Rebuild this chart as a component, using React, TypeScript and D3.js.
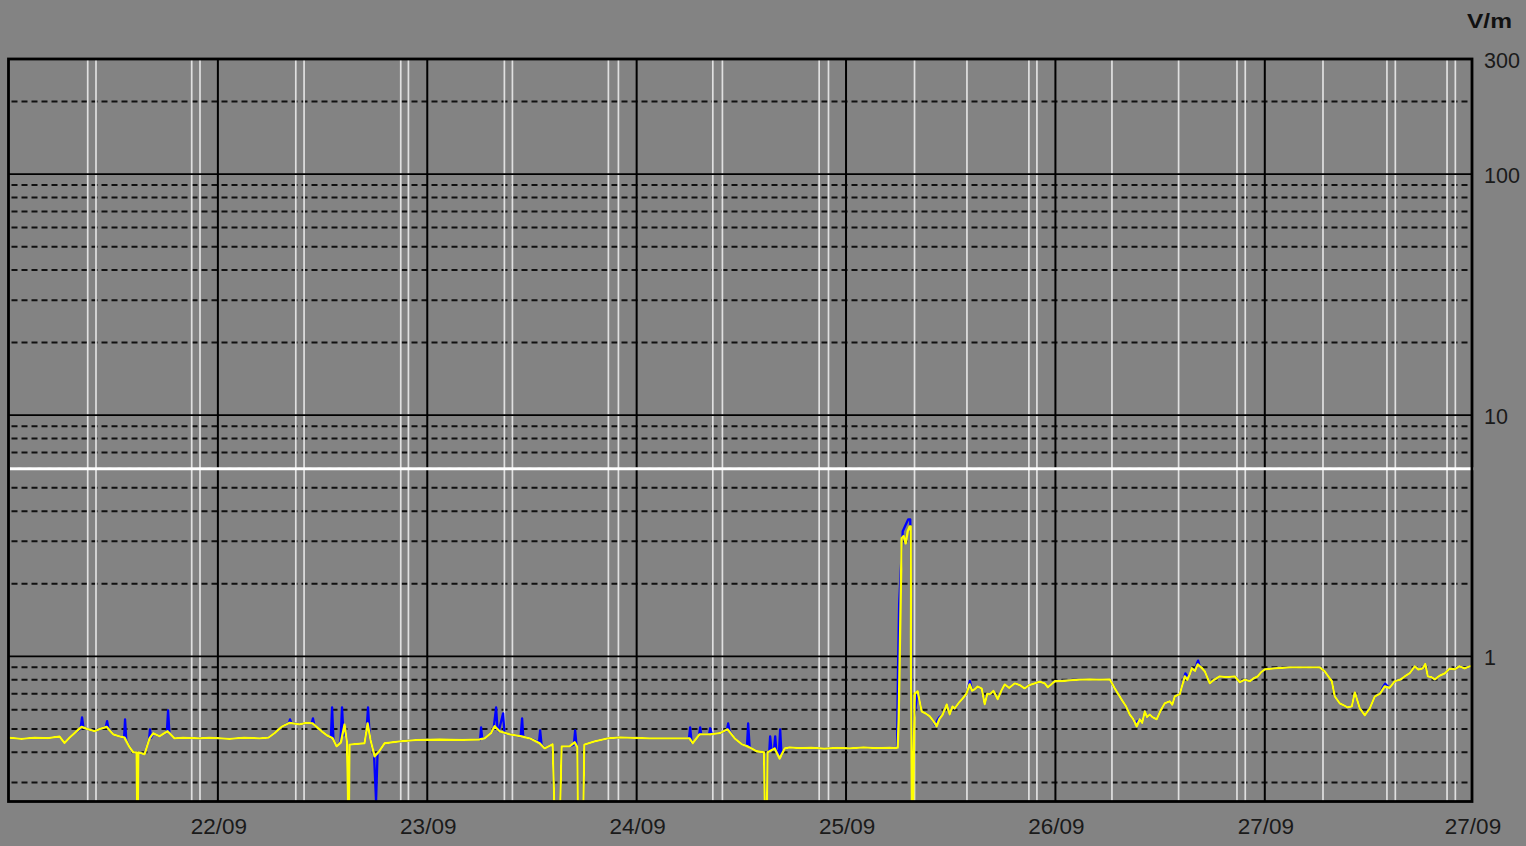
import React from "react";
import * as d3 from "d3";

// ---------- data ----------
const START = Date.UTC(2021, 8, 21, 0, 0); // 21/09 00:00
const END_HOURS = 167.75; // last sample, 27/09 ~23:45

// y-axis labels and threshold
const yLabels = [300, 100, 10, 1];
const majorLines = [1, 10, 100];
const thresholdVm = 6;

// white vertical markers (hours since start)
const markerHours = [
  9.08, 10.03, 21.0, 21.95, 32.93, 33.88, 44.96, 45.84, 56.84, 57.76, 68.76, 69.91,
  80.73, 81.83, 92.92, 93.99, 103.85, 109.86, 116.96, 117.88, 126.48, 134.12,
  140.81, 141.76, 150.67, 158.0, 158.96, 164.89, 165.84,
];

// average field (yellow) : [hours since start, V/m]
const avgSeries: [number, number][] = [
  [0, 0.46], [1.5, 0.455], [3, 0.46], [4.5, 0.458], [5.85, 0.465], [6.42, 0.437], [7.0, 0.46],
  [7.57, 0.48], [8.37, 0.51], [9.0, 0.5], [9.86, 0.489], [10.5, 0.5], [11.24, 0.51], [12.0, 0.475],
  [12.73, 0.466], [13.3, 0.46], [13.87, 0.42], [14.3, 0.4], [14.67, 0.4], [14.72, 0.2], [14.85, 0.2],
  [14.9, 0.4], [15.59, 0.392], [16.17, 0.457], [16.6, 0.48], [17.31, 0.466], [18.23, 0.489],
  [19.03, 0.457], [20, 0.46], [21.9, 0.457], [23, 0.46], [25.34, 0.455], [27, 0.46], [28.78, 0.457],
  [29.8, 0.46], [30.5, 0.48], [31.3, 0.51], [32.22, 0.53], [33.36, 0.522], [34.1, 0.53],
  [34.85, 0.527], [35.88, 0.489], [36.5, 0.47], [37.15, 0.457], [37.61, 0.423], [38.1, 0.44],
  [38.52, 0.522], [38.8, 0.44], [38.9, 0.2], [39.05, 0.2], [39.1, 0.43], [39.67, 0.432],
  [40.81, 0.436], [41.16, 0.527], [41.5, 0.45], [41.96, 0.385], [42.4, 0.4], [43.11, 0.436],
  [44.83, 0.444], [47, 0.45], [49.41, 0.452], [52, 0.45], [54.0, 0.452], [54.57, 0.457],
  [55.3, 0.48], [55.72, 0.513], [56.29, 0.489], [57.44, 0.475], [58.81, 0.466], [59.73, 0.457],
  [60.88, 0.436], [61.45, 0.415], [62.37, 0.432], [62.55, 0.2], [63.25, 0.2], [63.4, 0.423],
  [64.32, 0.423], [64.89, 0.44], [65.2, 0.42], [65.25, 0.2], [65.9, 0.2], [66.0, 0.43],
  [67.18, 0.444], [68.67, 0.457], [70.05, 0.461], [73.49, 0.457], [76.12, 0.457], [78.07, 0.457],
  [78.42, 0.436], [79.22, 0.475], [80.37, 0.475], [81.52, 0.48], [82.43, 0.498], [83.23, 0.457],
  [84.04, 0.432], [84.72, 0.423], [85.18, 0.415], [85.76, 0.404], [86.6, 0.4], [86.67, 0.2],
  [86.95, 0.2], [87.01, 0.4], [87.24, 0.404], [87.82, 0.415], [88.39, 0.377], [88.97, 0.415],
  [89.54, 0.419], [90.69, 0.416], [92, 0.418], [93.5, 0.414], [95, 0.417], [96.42, 0.415],
  [98, 0.419], [99.5, 0.416], [101.0, 0.418], [101.58, 0.416], [101.92, 0.418], [102.03, 0.54],
  [102.38, 3.09], [102.6, 3.15], [102.84, 2.94], [103.07, 3.3], [103.3, 3.46], [103.41, 3.46],
  [103.45, 0.93], [103.55, 0.2], [103.7, 0.2], [103.87, 0.7], [104.21, 0.716], [104.67, 0.591],
  [105.1, 0.58], [105.59, 0.564], [106.0, 0.54], [106.39, 0.513], [106.7, 0.55], [107.08, 0.574],
  [107.54, 0.632], [107.88, 0.574], [108.2, 0.62], [108.45, 0.608], [108.9, 0.64], [109.37, 0.669],
  [109.8, 0.70], [110.17, 0.765], [110.45, 0.72], [110.75, 0.73], [111.1, 0.75], [111.55, 0.736],
  [111.89, 0.632], [112.2, 0.70], [112.47, 0.696], [112.9, 0.72], [113.38, 0.663], [113.8, 0.72],
  [114.19, 0.765], [114.7, 0.74], [115.33, 0.773], [115.9, 0.76], [116.48, 0.736], [117.0, 0.76],
  [117.63, 0.773], [118.2, 0.785], [118.77, 0.773], [119.12, 0.744], [119.92, 0.788],
  [120.8, 0.79], [121.64, 0.795], [122.8, 0.80], [123.93, 0.803], [125.0, 0.80], [126.23, 0.803],
  [126.8, 0.736], [127.72, 0.651], [128.1, 0.62], [128.52, 0.574], [128.9, 0.55], [129.32, 0.513],
  [129.67, 0.548], [129.95, 0.53], [130.24, 0.591], [130.5, 0.56], [130.81, 0.574], [131.1, 0.56],
  [131.39, 0.553], [131.61, 0.548], [132.1, 0.60], [132.53, 0.638], [133.1, 0.651], [133.4, 0.63],
  [133.68, 0.682], [134.25, 0.696], [134.5, 0.75], [134.83, 0.826], [135.1, 0.80], [135.4, 0.842],
  [135.63, 0.892], [136.0, 0.87], [136.31, 0.926], [136.7, 0.90], [137.12, 0.866], [137.69, 0.773],
  [138.2, 0.80], [138.84, 0.826], [139.6, 0.82], [140.56, 0.826], [141.13, 0.78], [141.7, 0.80],
  [142.28, 0.788], [142.7, 0.81], [143.19, 0.826], [143.6, 0.86], [143.99, 0.883], [145.14, 0.892],
  [146.86, 0.9], [150.3, 0.9], [150.87, 0.866], [151.68, 0.788], [152.02, 0.682], [152.59, 0.638],
  [153.1, 0.625], [153.51, 0.614], [153.97, 0.62], [154.32, 0.709], [154.89, 0.608],
  [155.46, 0.569], [156.03, 0.608], [156.61, 0.682], [157.2, 0.70], [157.75, 0.751],
  [158.3, 0.74], [158.9, 0.788], [159.5, 0.80], [160.05, 0.826], [160.6, 0.85], [161.19, 0.909],
  [161.6, 0.88], [162.11, 0.892], [162.4, 0.93], [162.68, 0.826], [163.1, 0.82], [163.48, 0.803],
  [164.0, 0.83], [164.63, 0.85], [165.2, 0.89], [165.78, 0.883], [166.3, 0.91], [166.9, 0.89],
  [167.5, 0.909], [167.75, 0.91],
];

// peak field (blue): where it departs from the average trace
const peakGroups: [number, number][][] = [
  [[8.25, 0.5], [8.43, 0.558], [8.6, 0.505]],
  [[11.15, 0.51], [11.3, 0.538], [11.45, 0.505]],
  [[13.25, 0.46], [13.36, 0.548], [13.5, 0.45]],
  [[16.1, 0.45], [16.22, 0.498], [16.35, 0.46]],
  [[18.15, 0.485], [18.29, 0.597], [18.45, 0.48]],
  [[32.15, 0.53], [32.27, 0.548], [32.4, 0.53]],
  [[34.75, 0.527], [34.9, 0.553], [35.05, 0.52]],
  [[36.95, 0.46], [37.09, 0.614], [37.25, 0.45]],
  [[38.05, 0.44], [38.23, 0.614], [38.4, 0.47]],
  [[41.05, 0.5], [41.21, 0.614], [41.4, 0.47]],
  [[41.9, 0.39], [42.13, 0.2], [42.3, 0.395]],
  [[54.05, 0.45], [54.17, 0.507], [54.3, 0.455]],
  [[55.6, 0.5], [55.89, 0.614], [56.05, 0.5], [56.2, 0.49], [56.69, 0.58], [56.85, 0.48]],
  [[58.7, 0.466], [58.87, 0.553], [59.0, 0.465]],
  [[60.8, 0.44], [60.94, 0.493], [61.1, 0.43]],
  [[64.8, 0.43], [64.95, 0.493], [65.1, 0.43]],
  [[78.0, 0.457], [78.13, 0.507], [78.3, 0.44]],
  [[79.15, 0.47], [79.28, 0.507], [79.4, 0.475]],
  [[80.3, 0.475], [80.43, 0.503], [80.6, 0.476]],
  [[82.35, 0.495], [82.49, 0.527], [82.65, 0.49]],
  [[84.65, 0.425], [84.78, 0.527], [84.95, 0.42]],
  [[87.2, 0.404], [87.3, 0.466], [87.45, 0.41]],
  [[87.75, 0.413], [87.88, 0.466], [88.0, 0.41]],
  [[88.3, 0.39], [88.45, 0.498], [88.6, 0.39]],
  [[101.85, 0.418], [101.95, 0.842], [102.09, 1.66], [102.5, 3.3], [103.13, 3.7], [103.36, 3.7],
   [103.6, 0.3], [103.7, 0.538], [103.93, 0.6]],
  [[106.2, 0.52], [106.5, 0.545], [106.7, 0.56]],
  [[110.0, 0.74], [110.2, 0.79], [110.4, 0.73]],
  [[129.1, 0.53], [129.3, 0.535], [129.5, 0.54]],
  [[134.6, 0.78], [134.9, 0.85], [135.2, 0.82]],
  [[136.2, 0.93], [136.35, 0.96], [136.5, 0.92]],
  [[157.5, 0.74], [157.8, 0.77], [158.1, 0.75]],
];

// ---------- layout ----------
const W = 1526;
const H = 846;
const LEFT = 8.5;
const RIGHT = 1472;
const TOP = 59;
const BOTTOM = 801.5;
const BG = "#838383";
const FONT = "'Liberation Sans', Arial, sans-serif";

const toDate = (h: number) => new Date(START + h * 3600e3);

export default function App() {
  const x = d3
    .scaleTime()
    .domain([toDate(0), toDate(END_HOURS)])
    .range([LEFT, RIGHT]);
  const y = d3.scaleLog().domain([0.25, 300]).range([BOTTOM, TOP]).clamp(true);

  const minorVals = y
    .ticks()
    .filter((v) => v > 0.25 && v < 300 && !majorLines.some((m) => Math.abs(m - v) < 1e-9));

  const dayTicks = d3.utcDay.range(toDate(1), toDate(END_HOURS));
  const xTicks = [...dayTicks, toDate(END_HOURS)];
  const fmt = d3.utcFormat("%d/%m");

  // blue trace: average trace with peak groups substituted
  const bluePts: [number, number][] = avgSeries.filter(
    ([h]) => !peakGroups.some((g) => h >= g[0][0] && h <= g[g.length - 1][0])
  );
  peakGroups.forEach((g) => bluePts.push(...g));
  bluePts.sort((a, b) => a[0] - b[0]);

  const line = d3
    .line<[number, number]>()
    .x((d) => x(toDate(d[0])))
    .y((d) => y(d[1]));

  return (
    <svg
      width={W}
      height={H}
      style={{ position: "absolute", left: 0, top: 0, display: "block" }}
      fontFamily={FONT}
    >
      <defs>
        <clipPath id="plot">
          <rect x={LEFT} y={TOP} width={RIGHT - LEFT} height={BOTTOM - TOP} />
        </clipPath>
      </defs>
      <rect x={0} y={0} width={W} height={H} fill={BG} />

      {/* minor dashed grid */}
      {minorVals.map((v) => (
        <line
          key={"mn" + v}
          x1={LEFT + 3}
          x2={RIGHT - 2}
          y1={y(v)}
          y2={y(v)}
          stroke="#111"
          strokeWidth={2}
          strokeDasharray="6,4"
        />
      ))}

      {/* white markers */}
      {markerHours.map((h) => (
        <line
          key={"wm" + h}
          x1={x(toDate(h))}
          x2={x(toDate(h))}
          y1={TOP}
          y2={BOTTOM}
          stroke="#e0e0e0"
          strokeWidth={1.7}
        />
      ))}

      {/* major horizontal lines */}
      {majorLines.map((v) => (
        <line key={"mj" + v} x1={LEFT} x2={RIGHT} y1={y(v)} y2={y(v)} stroke="#000" strokeWidth={1.8} />
      ))}

      {/* day lines */}
      {dayTicks.map((d) => (
        <line
          key={"dl" + d.getTime()}
          x1={x(d)}
          x2={x(d)}
          y1={TOP}
          y2={BOTTOM}
          stroke="#000"
          strokeWidth={2}
        />
      ))}

      {/* threshold */}
      <line
        x1={LEFT + 1.5}
        x2={RIGHT + 1.5}
        y1={y(thresholdVm)}
        y2={y(thresholdVm)}
        stroke="#ffffff"
        strokeWidth={3}
      />

      {/* data */}
      <g clipPath="url(#plot)">
        <path d={line(bluePts) || ""} fill="none" stroke="#0000ff" strokeWidth={2.3} strokeLinejoin="round" />
        <path d={line(avgSeries) || ""} fill="none" stroke="#ffff00" strokeWidth={2.3} strokeLinejoin="round" />
      </g>

      {/* frame */}
      <rect
        x={LEFT}
        y={TOP}
        width={RIGHT - LEFT}
        height={BOTTOM - TOP}
        fill="none"
        stroke="#000"
        strokeWidth={2.8}
      />

      {/* y labels */}
      <text x={1467} y={28} fontSize={21} fontWeight="bold" fill="#111" textLength={45} lengthAdjust="spacingAndGlyphs">
        V/m
      </text>
      {yLabels.map((v) => (
        <text key={"yl" + v} x={1484} y={y(v) + 8.5} fontSize={21.5} fill="#1a1a1a">
          {String(v)}
        </text>
      ))}

      {/* x labels */}
      {xTicks.map((d, i) => (
        <text key={"xl" + i} x={x(d) + 1} y={834} fontSize={22.5} textAnchor="middle" fill="#1a1a1a">
          {fmt(d)}
        </text>
      ))}
    </svg>
  );
}
